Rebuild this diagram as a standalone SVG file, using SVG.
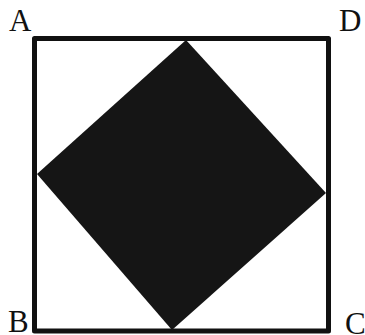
<svg xmlns="http://www.w3.org/2000/svg" width="365" height="335" viewBox="0 0 365 335">
  <style>
    .lbl { font-family: "Liberation Serif", "Times New Roman", serif; font-size: 31px; fill: #111; }
    .frame { fill: none; stroke: #111; stroke-width: 5; stroke-linejoin: round; }
    .diamond { fill: #151515; stroke: none; }
  </style>
  <rect width="365" height="335" fill="#ffffff"/>
  <g id="square">
    <rect class="frame" x="34.5" y="38.5" width="294" height="292.5"/>
  </g>
  <g id="inner-square">
    <polygon class="diamond" points="186,40 326,193 172,330 37,174"/>
  </g>
  <g id="labels">
    <text class="lbl" x="9" y="31">A</text>
    <text class="lbl" x="339" y="31">D</text>
    <text class="lbl" x="8" y="332">B</text>
    <text class="lbl" x="345" y="334">C</text>
  </g>
</svg>
